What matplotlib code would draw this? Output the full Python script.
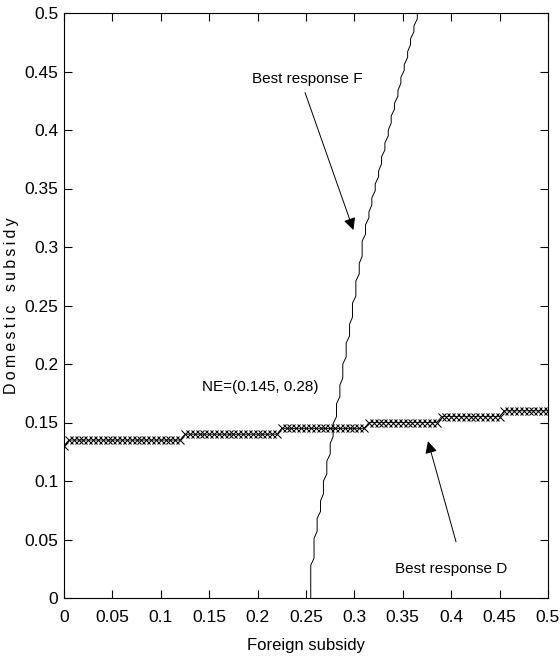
import numpy as np
import matplotlib
matplotlib.use("Agg")
import matplotlib.pyplot as plt

# data
#______________________________________________________________________________
# best response D: sample grid in foreign subsidy, step levels of domestic subsidy
d_x        = np.arange(0, 101) * 0.005
d_breaks   = [0.0025, 0.1225, 0.2225, 0.3125, 0.3875, 0.4525]
d_levels   = [0.130, 0.135, 0.140, 0.145, 0.150, 0.155, 0.160]

# best response F: x level of each vertical piece and the y where it ends
f_levels = [0.2549, 0.2583, 0.2615, 0.2650, 0.2680, 0.2715, 0.2750, 0.2780,
            0.2815, 0.2850, 0.2880, 0.2915, 0.2950, 0.2980, 0.3015, 0.3050,
            0.3080, 0.3115, 0.3150, 0.3180, 0.3215, 0.3250, 0.3280, 0.3315,
            0.3350, 0.3380, 0.3415, 0.3450, 0.3480, 0.3515, 0.3550, 0.3580,
            0.3615, 0.3650]
f_tops   = [0.034, 0.057, 0.074, 0.089, 0.106, 0.123, 0.138, 0.155,
            0.172, 0.188, 0.206, 0.224, 0.240, 0.258, 0.277, 0.292,
            0.311, 0.325, 0.336, 0.348, 0.360, 0.371, 0.383, 0.395,
            0.406, 0.418, 0.429, 0.440, 0.451, 0.462, 0.473, 0.484,
            0.495, 0.510]
f_rise   = 0.006

# building polylines
#______________________________________________________________________________
d_y = np.array(d_levels)[np.searchsorted(d_breaks, d_x)]

fx, fy = [f_levels[0]], [0.0]
for i, (lx, top) in enumerate(zip(f_levels, f_tops)):
    last = (i == len(f_levels) - 1)
    fx.append(lx)
    fy.append(top if last else top - f_rise)
    if not last:
        fx.append(f_levels[i + 1])
        fy.append(top)

# plotting
#______________________________________________________________________________
plt.rcParams['font.family'] = ['Liberation Sans', 'DejaVu Sans']

fig = plt.figure(figsize=(5.6, 6.64), dpi=100)
ax  = fig.add_axes([64/560, 66/664, 484/560, 585/664])

ax.plot(fx, fy, color='black', linewidth=0.7)
ax.plot(d_x, d_y, color='black', linewidth=0.6, marker='x',
        markersize=5.5, markeredgewidth=0.75)

ax.set_xlim(0, 0.5)
ax.set_ylim(0, 0.5)
ticks  = [0, 0.05, 0.1, 0.15, 0.2, 0.25, 0.3, 0.35, 0.4, 0.45, 0.5]
labels = ['0', '0.05', '0.1', '0.15', '0.2', '0.25', '0.3',
          '0.35', '0.4', '0.45', '0.5']
ax.set_xticks(ticks)
ax.set_yticks(ticks)
ax.set_xticklabels(labels)
ax.set_yticklabels(labels)
ax.tick_params(direction='in', length=6, width=0.8, top=True, right=True,
               labelsize=12.5)
ax.tick_params(axis='x', pad=9)
ax.tick_params(axis='y', pad=4)
for s in ax.spines.values():
    s.set_linewidth(0.8)

thin = '\u2009'
ax.set_xlabel('Foreign subsidy', fontsize=12, labelpad=9)
ax.set_ylabel(thin.join('Domestic') + '   ' + thin.join('subsidy'), fontsize=11.5)
ax.yaxis.set_label_coords(-0.092, 0.5)

ax.text(0.251, 0.444, 'Best response F', ha='center', va='center', fontsize=11)
ax.annotate('', xy=(0.299, 0.3145), xytext=(0.249, 0.432),
            arrowprops=dict(arrowstyle='-|>', color='black', lw=0.7,
                            mutation_scale=18, shrinkA=0, shrinkB=0))
ax.text(0.2624, 0.18, 'NE=(0.145, 0.28)', ha='right', va='center',
        fontsize=11)
ax.text(0.40, 0.025, 'Best response D', ha='center', va='center',
        fontsize=11)
ax.annotate('', xy=(0.376, 0.134), xytext=(0.405, 0.048),
            arrowprops=dict(arrowstyle='-|>', color='black', lw=0.7,
                            mutation_scale=18, shrinkA=0, shrinkB=0))

fig.savefig('out.png', dpi=100)
